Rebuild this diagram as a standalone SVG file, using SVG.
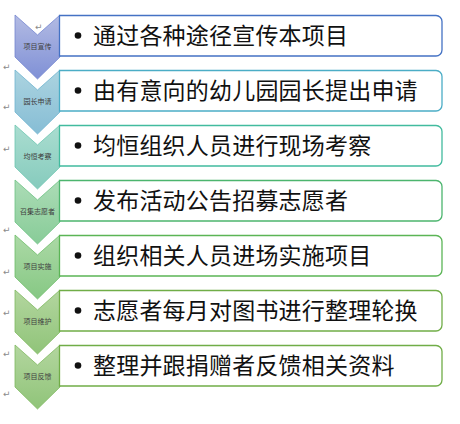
<svg xmlns="http://www.w3.org/2000/svg" width="460" height="424" viewBox="0 0 460 424">
<defs>
<linearGradient id="g1" x1="0" y1="0" x2="0" y2="1"><stop offset="0" stop-color="#b3bbe3"/><stop offset="1" stop-color="#7f90d6"/></linearGradient>
<linearGradient id="g2" x1="0" y1="0" x2="0" y2="1"><stop offset="0" stop-color="#acd4e0"/><stop offset="1" stop-color="#86bdd5"/></linearGradient>
<linearGradient id="g3" x1="0" y1="0" x2="0" y2="1"><stop offset="0" stop-color="#aaddd0"/><stop offset="1" stop-color="#86cbbd"/></linearGradient>
<linearGradient id="g4" x1="0" y1="0" x2="0" y2="1"><stop offset="0" stop-color="#acdcb6"/><stop offset="1" stop-color="#88cc98"/></linearGradient>
<linearGradient id="g5" x1="0" y1="0" x2="0" y2="1"><stop offset="0" stop-color="#acd9a6"/><stop offset="1" stop-color="#86c884"/></linearGradient>
<linearGradient id="g6" x1="0" y1="0" x2="0" y2="1"><stop offset="0" stop-color="#b3d69f"/><stop offset="1" stop-color="#90c479"/></linearGradient>
<linearGradient id="g7" x1="0" y1="0" x2="0" y2="1"><stop offset="0" stop-color="#b3d69f"/><stop offset="1" stop-color="#90c479"/></linearGradient>
<polygon id="chev" points="15,0 37.5,20 60,0 60,42 37.5,64 15,42"/>
<path id="box" d="M59.5,0.5 H436 a6,6 0 0 1 6,6 V35 a6,6 0 0 1 -6,6 H59.5 Z"/>
</defs>
<style>
.lbl{font-family:"Noto Sans CJK SC","Noto Sans",sans-serif;font-size:7px;fill:#404040;text-anchor:middle}
.txt{font-family:"Noto Sans CJK SC","Noto Sans",sans-serif;font-size:23px;letter-spacing:0.2px;fill:#111}
.pm{font-family:"DejaVu Sans",sans-serif;font-size:9px;fill:#8a8a8a}
.b{fill:#fff;stroke-width:1.3}
.c{stroke-width:0.8}
</style>
<g id="row1" transform="translate(0,15)">
<use href="#chev" fill="url(#g1)" stroke="#7385cf" class="c"/>
<use href="#box" class="b" stroke="#4472c4"/>
<text class="lbl" x="37.5" y="33.5">项目宣传</text>
<circle cx="78" cy="20.5" r="3.3" fill="#111"/>
<text class="txt" x="93" y="28.5">通过各种途径宣传本项目</text>
</g>
<g id="row2" transform="translate(0,70)">
<use href="#chev" fill="url(#g2)" stroke="#6fb4cf" class="c"/>
<use href="#box" class="b" stroke="#4badc6"/>
<text class="lbl" x="37.5" y="33.5">园长申请</text>
<circle cx="78" cy="20.5" r="3.3" fill="#111"/>
<text class="txt" x="93" y="28.5">由有意向的幼儿园园长提出申请</text>
</g>
<g id="row3" transform="translate(0,125)">
<use href="#chev" fill="url(#g3)" stroke="#6cc5b0" class="c"/>
<use href="#box" class="b" stroke="#42bb9e"/>
<text class="lbl" x="37.5" y="33.5">均恒考察</text>
<circle cx="78" cy="20.5" r="3.3" fill="#111"/>
<text class="txt" x="93" y="28.5">均恒组织人员进行现场考察</text>
</g>
<g id="row4" transform="translate(0,180)">
<use href="#chev" fill="url(#g4)" stroke="#6cc283" class="c"/>
<use href="#box" class="b" stroke="#4cb56e"/>
<text class="lbl" x="37.5" y="33.5">召集志愿者</text>
<circle cx="78" cy="20.5" r="3.3" fill="#111"/>
<text class="txt" x="93" y="28.5">发布活动公告招募志愿者</text>
</g>
<g id="row5" transform="translate(0,235)">
<use href="#chev" fill="url(#g5)" stroke="#6dbd68" class="c"/>
<use href="#box" class="b" stroke="#5bb556"/>
<text class="lbl" x="37.5" y="33.5">项目实施</text>
<circle cx="78" cy="20.5" r="3.3" fill="#111"/>
<text class="txt" x="93" y="28.5">组织相关人员进场实施项目</text>
</g>
<g id="row6" transform="translate(0,290)">
<use href="#chev" fill="url(#g6)" stroke="#7fb95f" class="c"/>
<use href="#box" class="b" stroke="#70ad47"/>
<text class="lbl" x="37.5" y="33.5">项目维护</text>
<circle cx="78" cy="20.5" r="3.3" fill="#111"/>
<text class="txt" x="93" y="28.5">志愿者每月对图书进行整理轮换</text>
</g>
<g id="row7" transform="translate(0,345)">
<use href="#chev" fill="url(#g7)" stroke="#7fb95f" class="c"/>
<use href="#box" class="b" stroke="#70ad47"/>
<text class="lbl" x="37.5" y="33.5">项目反馈</text>
<circle cx="78" cy="20.5" r="3.3" fill="#111"/>
<text class="txt" x="93" y="28.5">整理并跟捐赠者反馈相关资料</text>
</g>
<g id="marks" class="pm">
<text x="35" y="30">↵</text>
<text x="3" y="70">↵</text>
<text x="3" y="110">↵</text>
<text x="3" y="152">↵</text>
<text x="3" y="233">↵</text>
<text x="3" y="275">↵</text>
<text x="3" y="316">↵</text>
<text x="3" y="357">↵</text>
<text x="3" y="397">↵</text>
</g>
</svg>
